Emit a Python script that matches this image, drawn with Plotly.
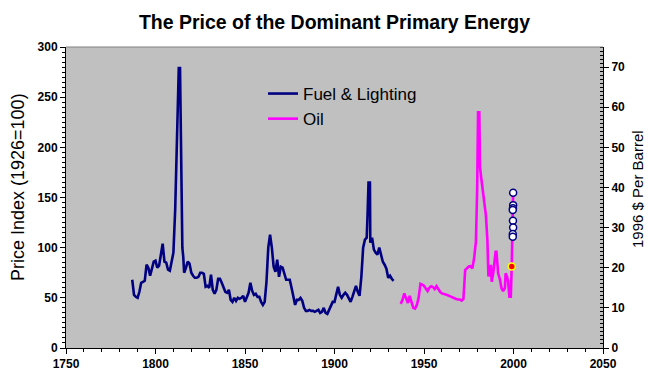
import plotly.graph_objects as go

# ---------------- data ----------------
fuel_years = [1787, 1788, 1789, 1790, 1791, 1792, 1793, 1794, 1795, 1796, 1797, 1798, 1799,
              1800, 1801, 1802, 1803, 1804, 1805, 1806, 1807, 1808, 1809, 1810, 1811, 1811.5,
              1812, 1813, 1813.7, 1814, 1814.5, 1815, 1815.5, 1816, 1817, 1818, 1819, 1820,
              1821, 1822, 1823, 1824, 1825, 1826, 1827, 1828, 1829, 1830, 1831, 1832, 1833,
              1834, 1835, 1836, 1837, 1838, 1839, 1840, 1841, 1842, 1843, 1844, 1845, 1846,
              1847, 1848, 1849, 1850, 1851, 1852, 1853, 1854, 1855, 1856, 1857, 1858, 1859,
              1860, 1861, 1862, 1863, 1864, 1865, 1866, 1867, 1868, 1869, 1870, 1871, 1872,
              1873, 1874, 1875, 1876, 1877, 1878, 1879, 1880, 1881, 1882, 1883, 1884, 1885,
              1886, 1887, 1888, 1889, 1890, 1891, 1892, 1893, 1894, 1895, 1896, 1897, 1898,
              1899, 1900, 1901, 1902, 1903, 1904, 1905, 1906, 1907, 1908, 1909, 1910, 1911,
              1912, 1913, 1914, 1915, 1916, 1917, 1918, 1918.5, 1919, 1919.8, 1920, 1921,
              1922, 1923, 1924, 1925, 1926, 1927, 1928, 1929, 1930, 1931, 1932, 1933]
fuel_values = [68, 53, 51, 50, 56, 65, 66, 67, 83, 80, 72, 80, 86,
               87, 80, 82, 95, 104, 86, 85, 78, 77, 86, 95, 138, 178,
               228, 279, 279, 223, 168, 100, 91, 75, 80, 86, 84, 75,
               72, 70, 70, 71, 75, 75, 74, 61, 62, 60, 73, 58, 54,
               58, 69, 69, 65, 60, 56, 55, 58, 48, 46, 50, 47, 50,
               49, 50, 52, 46, 50, 55, 65, 57, 53, 54, 51, 51, 46,
               43, 46, 66, 100, 113, 100, 81, 76, 88, 71, 81, 80, 73,
               68, 68, 68, 60, 50, 43, 48, 48, 50, 47, 40, 37, 37,
               38, 37, 37, 36, 37, 38, 35, 36, 40, 35, 34, 38, 43,
               46, 46, 53, 61, 53, 50, 53, 55, 53, 50, 46, 51, 58,
               62, 56, 52, 71, 100, 108, 110, 135, 165, 165, 105, 110,
               98, 95, 93, 100, 92, 86, 83, 79, 70, 72, 69, 67]

oil_years = [1937, 1938, 1939, 1940, 1941, 1942, 1943, 1944, 1945, 1946, 1947, 1948, 1949,
             1950, 1951, 1952, 1953, 1954, 1955, 1956, 1957, 1958, 1959, 1960, 1961, 1962,
             1963, 1964, 1965, 1966, 1967, 1968, 1969, 1970, 1971, 1972, 1973, 1974, 1975,
             1976, 1977, 1978, 1979, 1979.7, 1980.2, 1980.9, 1981.3, 1982, 1982.6, 1983.2,
             1984, 1984.6, 1985.4, 1986, 1986.3, 1986.8, 1987.4, 1987.8, 1988.7, 1989.3,
             1990, 1990.5, 1990.9, 1991.4, 1992.4, 1993.3, 1994.2, 1995.2, 1995.6, 1996.4,
             1997, 1997.7, 1998.5, 1999, 1999.8]
oil_values = [11, 12, 13.6, 12.5, 11.2, 13, 11.2, 10, 9.8, 10.7, 12.5, 16, 15.8,
              15.5, 14.8, 14.2, 15, 15.4, 15.2, 14.7, 15.4, 14.6, 14, 13.6, 13.5, 13.3,
              13.2, 13, 12.8, 12.4, 12.3, 12.2, 12.1, 12.1, 11.8, 12.2, 19.4, 20, 20.3,
              20.4, 19.8, 22.4, 26.5, 39.4, 58.7, 58.7, 45, 42.3, 39.8, 37.7,
              35.6, 33, 27, 17.8, 20.5, 17.8, 20.7, 16.5, 18.7, 22,
              24, 24, 19.6, 18.6, 17.1, 14.9, 14.2, 15, 18.6, 17.8,
              16.5, 12.8, 12.8, 20.3, 38.7]

future_years = [1999.8, 1999.8, 1999.7, 1999.6, 1999.7, 1999.8, 1999.6, 1999.6]
future_values = [38.7, 35.6, 34.8, 34.4, 31.7, 30.0, 28.4, 27.7]
current_year = [1999]
current_value = [20.3]

x_ticks = [1750, 1800, 1850, 1900, 1950, 2000, 2050]
y_ticks = [0, 50, 100, 150, 200, 250, 300]
y2_ticks = [0, 10, 20, 30, 40, 50, 60, 70]

FONT = "Liberation Sans, Arial, sans-serif"
tickfont = dict(family=FONT, size=12, color="black", weight="bold")

fig = go.Figure()
fig.add_trace(go.Scatter(x=fuel_years, y=fuel_values, mode="lines", name="Fuel & Lighting",
                         line=dict(color="#000080", width=2.6)))
fig.add_trace(go.Scatter(x=oil_years, y=oil_values, mode="lines", name="Oil", yaxis="y2",
                         line=dict(color="#FF00FF", width=2.6)))
fig.add_trace(go.Scatter(x=future_years, y=future_values, mode="markers", yaxis="y2",
                         showlegend=False,
                         marker=dict(symbol="circle", size=7, color="white",
                                     line=dict(color="#000080", width=1.5))))
fig.add_trace(go.Scatter(x=current_year, y=current_value, mode="markers", yaxis="y2",
                         showlegend=False,
                         marker=dict(symbol="circle", size=7, color="red",
                                     line=dict(color="yellow", width=1.5))))

fig.update_layout(
    width=655, height=384,
    margin=dict(l=66, r=52, t=47, b=36),
    paper_bgcolor="white", plot_bgcolor="#C0C0C0",
    font=dict(family=FONT, color="black"),
    title=dict(text="The Price of the Dominant Primary Energy", x=0.5, xref="paper",
               xanchor="center", y=1 - 22 / 384, yanchor="middle",
               font=dict(family=FONT, size=19.5, color="black", weight="bold")),
    xaxis=dict(range=[1750, 2050], tickvals=x_ticks, showgrid=False, zeroline=False,
               showline=True, linecolor="black", linewidth=1,
               ticks="outside", ticklen=5, tickcolor="black", tickfont=tickfont,
               minor=dict(ticks="outside", ticklen=3, dtick=10, tick0=1750, tickcolor="black",
                          showgrid=False)),
    yaxis=dict(range=[0, 300], tickvals=y_ticks, showgrid=False, zeroline=False,
               showline=True, linecolor="black", linewidth=1,
               ticks="outside", ticklen=5, tickcolor="black", tickfont=tickfont,
               minor=dict(ticks="outside", ticklen=3, dtick=5, tick0=0, tickcolor="black",
                          showgrid=False)),
    yaxis2=dict(range=[0, 75], tickvals=y2_ticks, overlaying="y", side="right",
                showgrid=False, zeroline=False, showline=True, linecolor="black", linewidth=1,
                ticks="outside", ticklen=5, tickcolor="black", tickfont=tickfont,
                minor=dict(ticks="inside", ticklen=3, dtick=1, tick0=0, tickcolor="black",
                           showgrid=False)),
    legend=dict(x=(263 - 66) / 537, y=(348 - 76) / 301, xanchor="left", yanchor="top",
                bgcolor="rgba(0,0,0,0)", font=dict(family=FONT, size=17, color="black"),
                itemwidth=30, tracegroupgap=0),
    showlegend=True,
)

# gray top border of plot area
fig.add_shape(type="line", xref="paper", yref="paper", x0=0, x1=1, y0=1, y1=1,
              line=dict(color="#808080", width=1))

fig.add_annotation(text="Price Index (1926=100)", xref="paper", yref="paper",
                   x=(18 - 66) / 537, y=(348 - 187) / 301, textangle=-90, showarrow=False,
                   xanchor="center", yanchor="middle",
                   font=dict(family=FONT, size=18, color="black"))
fig.add_annotation(text="1996 $ Per Barrel", xref="paper", yref="paper",
                   x=(637 - 66) / 537, y=(348 - 189) / 301, textangle=-90, showarrow=False,
                   xanchor="center", yanchor="middle",
                   font=dict(family=FONT, size=15, color="black"))

fig.write_html("out.html", config={"displayModeBar": False},
               post_script="document.body.style.margin='0';document.body.style.padding='0';")
